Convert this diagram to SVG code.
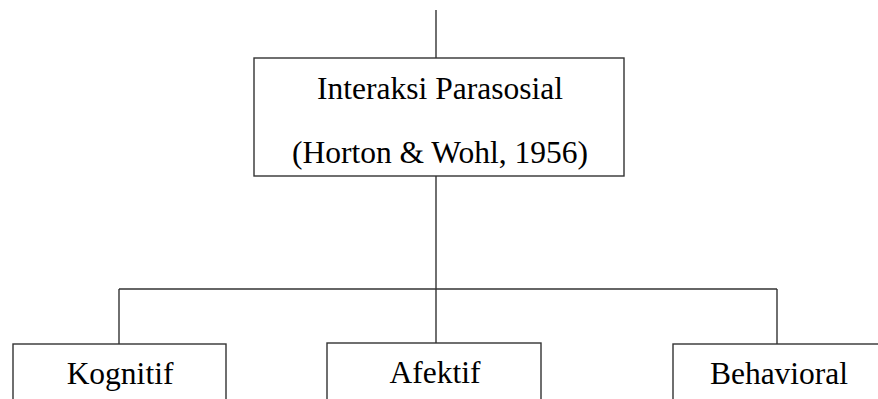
<svg xmlns="http://www.w3.org/2000/svg" width="878" height="399" viewBox="0 0 878 399">
<style>
.box{fill:#fff;stroke:#333;stroke-width:1.4}
.ln{fill:none;stroke:#333;stroke-width:1.4}
.t{font-family:"Liberation Serif","Times New Roman",serif;font-size:31.5px;fill:#000;text-anchor:middle}
</style>
<rect width="878" height="399" fill="#fff"/>
<g id="connectors">
<line class="ln" x1="436" y1="10" x2="436" y2="58"/>
<line class="ln" x1="436" y1="176" x2="436" y2="289"/>
<line class="ln" x1="119" y1="289" x2="777" y2="289"/>
<line class="ln" x1="119" y1="289" x2="119" y2="344"/>
<line class="ln" x1="436" y1="289" x2="436" y2="343"/>
<line class="ln" x1="777" y1="289" x2="777" y2="344"/>
</g>
<g id="node-interaksi">
<rect class="box" x="254" y="58" width="370" height="118"/>
<text class="t" x="440" y="99">Interaksi Parasosial</text>
<text class="t" x="440" y="163">(Horton &amp; Wohl, 1956)</text>
</g>
<g id="node-kognitif">
<rect class="box" x="13" y="344" width="213" height="70"/>
<text class="t" x="120" y="384">Kognitif</text>
</g>
<g id="node-afektif">
<rect class="box" x="327" y="343" width="214" height="70"/>
<text class="t" x="435" y="383">Afektif</text>
</g>
<g id="node-behavioral">
<rect class="box" x="673" y="344" width="214" height="70"/>
<text class="t" x="779" y="384">Behavioral</text>
</g>
</svg>
